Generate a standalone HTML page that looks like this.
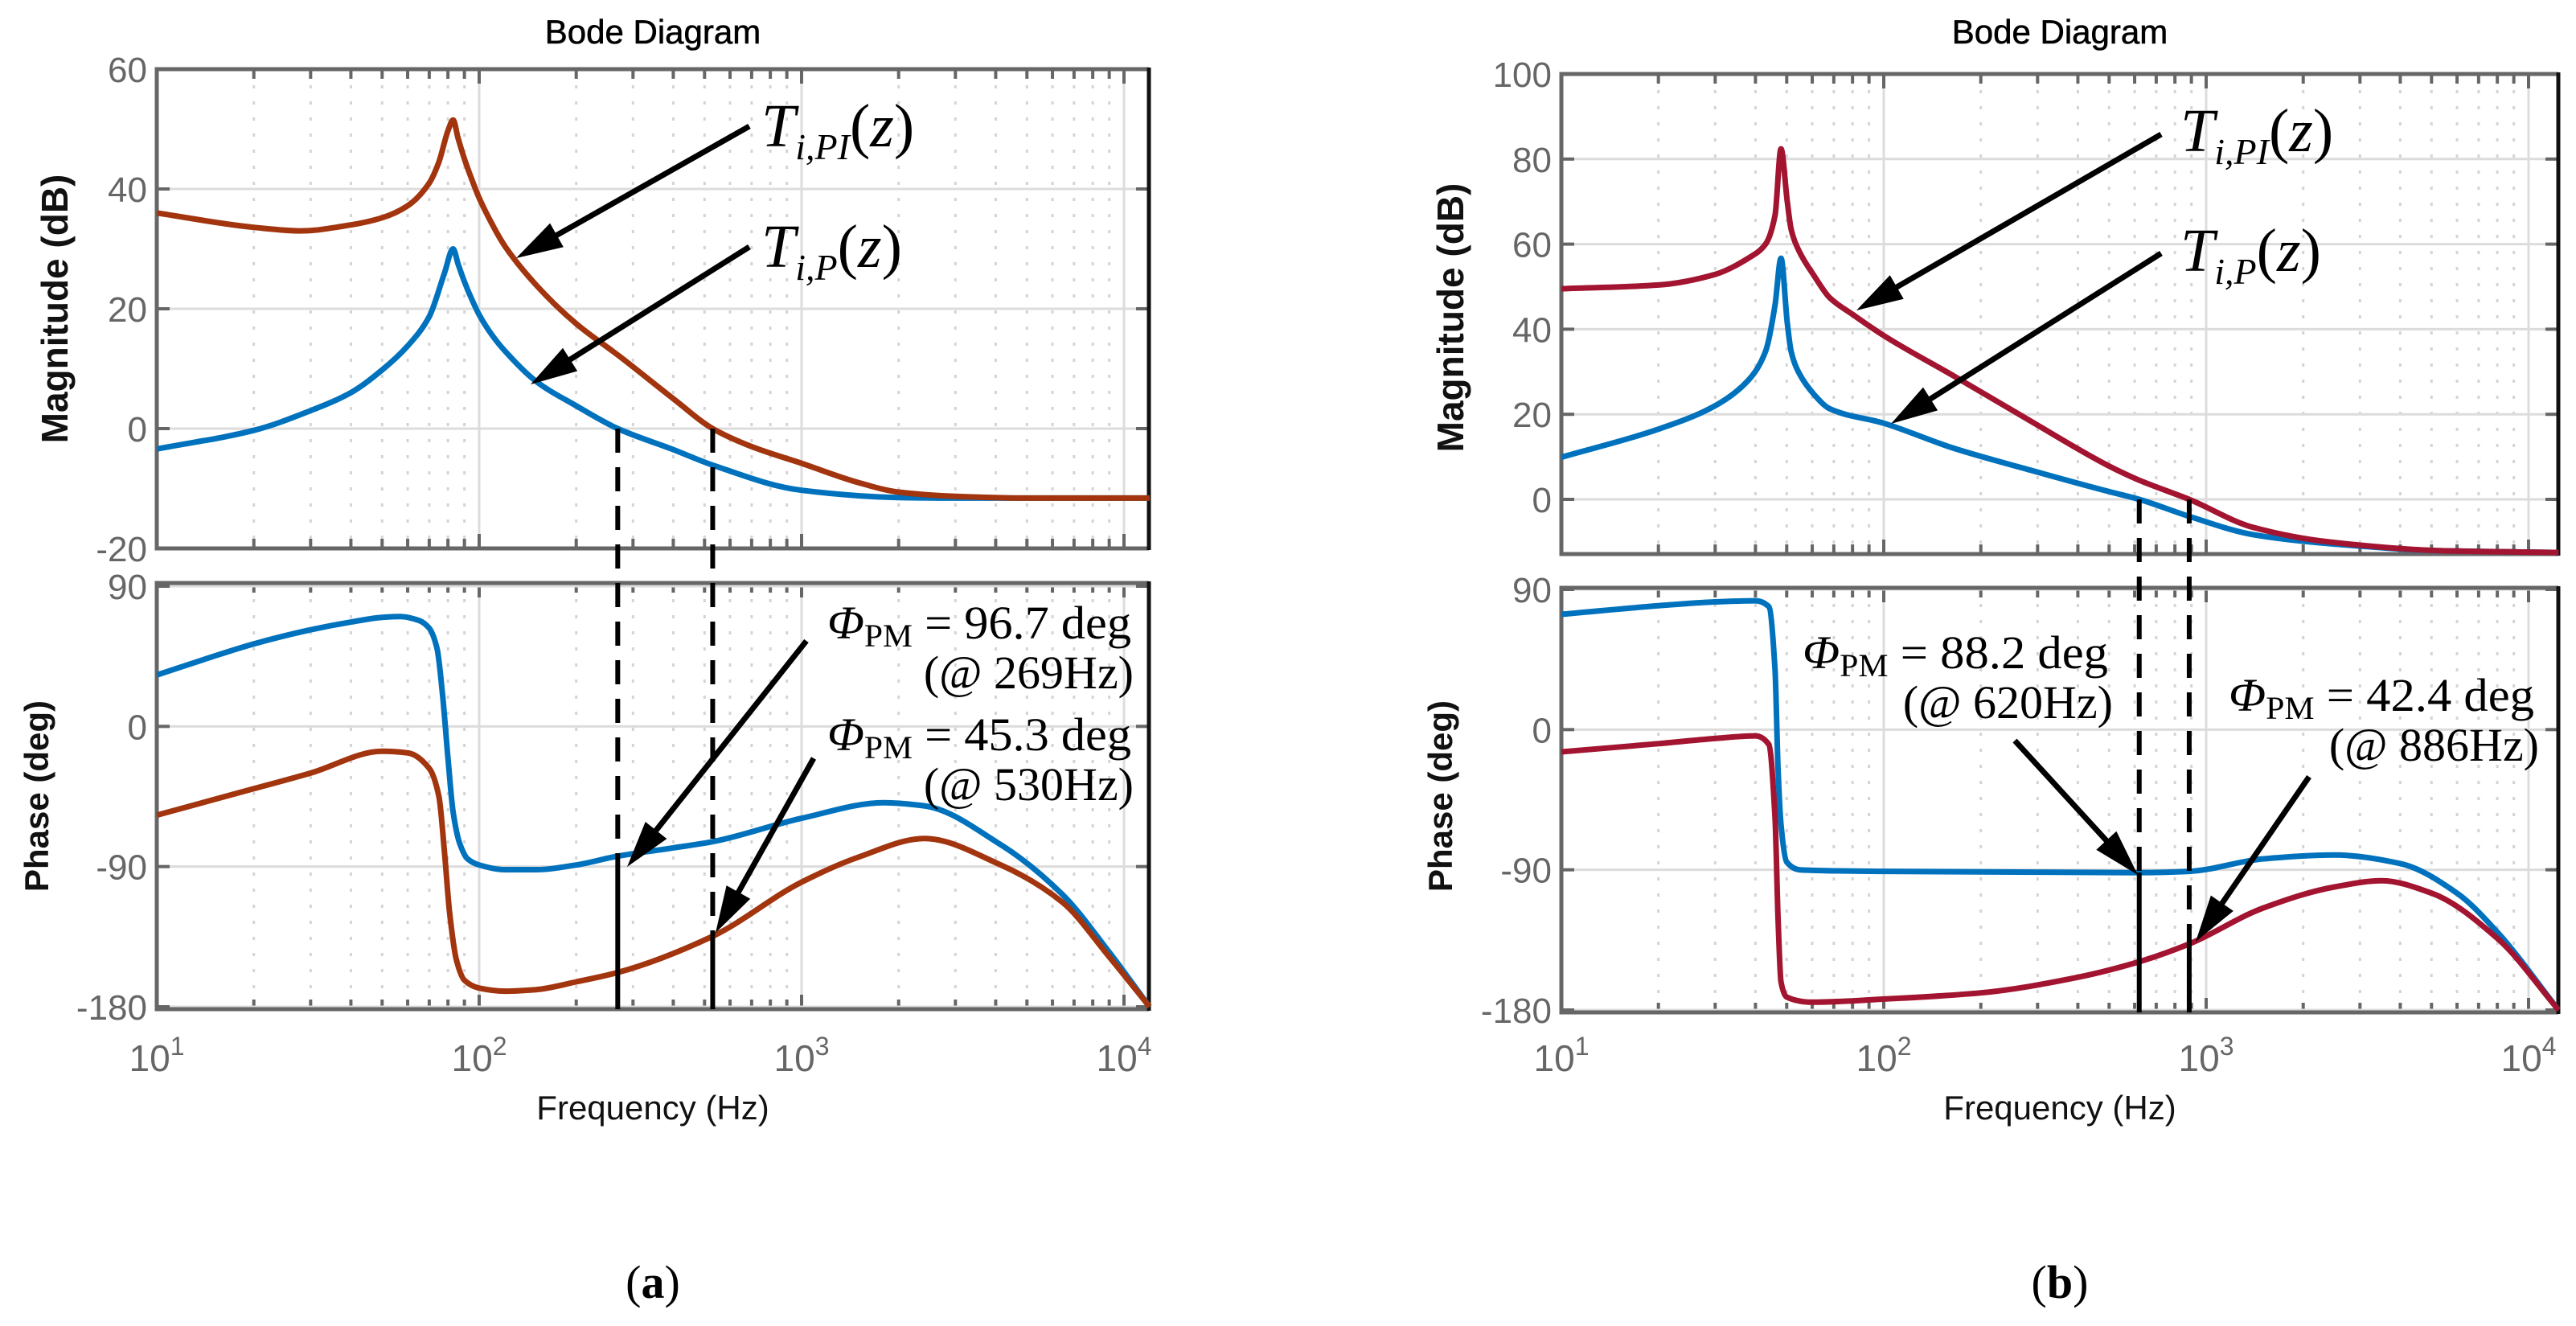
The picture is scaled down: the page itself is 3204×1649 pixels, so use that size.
<!DOCTYPE html>
<html><head><meta charset="utf-8"><title>Bode Diagrams</title>
<style>
html,body{margin:0;padding:0;background:#fff;}
svg{display:block;}
</style></head>
<body>
<svg id="fig" xmlns="http://www.w3.org/2000/svg" width="3204" height="1649" viewBox="0 0 3204 1649"></svg>
<script>
// ---------- data: chart (a) ----------
const freqA_magPI = [10,20,28,40,50,60,70,75,80,83,86,90,95,100,110,120,150,200,269,400,530,700,1000,1500,2000,3000,5000,12000];
const magA_PI     = [36,33.6,33,34,35.2,37.2,41,44.5,49.7,51.5,48.5,45,41.5,38.5,34,30.5,24,17.5,12.3,5,0,-3,-5.8,-9,-10.6,-11.3,-11.6,-11.6];
const freqA_magP  = [10,20,30,40,50,60,70,78,83,86,90,95,100,110,120,150,200,269,400,530,1000,2000,3000,5000,12000];
const magA_P      = [-3.4,-0.3,3,6,9.8,13.8,18.7,25.9,30,27.5,24.5,21.5,19,15.5,13,7.9,3.8,0,-3.5,-6.1,-10.3,-11.5,-11.6,-11.6,-11.6];
const freqA_phP   = [10,15,20,30,40,50,57,65,70,74,77,80,83,87,92,100,120,150,200,269,400,530,1000,1800,2400,4150,6450,9000,12000];
const phaseA_P    = [33,45,53,62,67,70,70.5,68,63,50,20,-20,-55,-75,-85,-89,-92,-92,-89,-83.3,-78,-74,-59,-49,-51,-76,-108,-145,-180];
const freqA_phPI  = [10,20,30,50,60,70,75,78,81,85,90,100,120,150,200,269,530,1000,1500,2400,4150,6450,9000,12000];
const phaseA_PI   = [-57,-40,-30,-16,-17,-27,-45,-80,-120,-150,-163,-168,-170,-169,-164,-158,-134.7,-100,-84,-72,-89,-113,-148,-180];
// ---------- data: chart (b) ----------
const freqB_magPI = [10,20,30,38,43,46,48,50.2,51.6,54.6,60.9,68,80,100,165,284,495,620,886,1400,2400,5500,12390];
const magB_PI     = [49.5,50.4,52.9,56.7,60,66.8,82.4,70,63.5,58.4,52.5,47.4,43.5,38.5,29,18.5,8,4.5,0,-6.6,-10,-12.1,-12.5];
const freqB_magP  = [10,20,30,38,43,46,48,50.2,51.6,54.6,60.9,68,100,165,284,495,620,886,1400,2400,5500,12390];
const magB_P      = [9.9,16.5,22,28,34.8,45.7,56.7,41.5,34.8,29.7,24.6,21.3,17.9,12,6.9,1.9,0,-4,-8.3,-10.4,-12.1,-12.5];
const freqB_phP   = [10,20,30,40,44,46,47,48,50,55,100,300,620,886,1500,2500,4000,6000,8000,12390];
const phaseB_P    = [74,79.5,82,82.7,79,38,-25,-61,-85,-90,-91,-91.5,-91.8,-91,-83,-80.5,-86,-105,-130,-180];
const freqB_phPI  = [10,20,30,40,44,46,47,48,50,60,100,200,400,620,886,1500,2500,3500,5000,8000,12390];
const phaseB_PI   = [-14.3,-9,-5.7,-4,-9.5,-57,-121,-162,-171.7,-175,-173,-169,-159,-149,-137.6,-114.6,-101,-97,-105,-134,-180];
// ticks
const magTicksA = [60,40,20,0,-20];
const magTicksB = [100,80,60,40,20,0];
const phaseTicks = [90,0,-90,-180];
const decadeExps = [1,2,3,4];
// crossover markers
const crossA = [269,530];
const crossB = [620,886];
const pmA = ["96.7","45.3"];
const pmB = ["88.2","42.4"];

const NS = "http://www.w3.org/2000/svg";
const svg = document.getElementById('fig');
function mk(tag, attrs, parent){
  const e = document.createElementNS(NS, tag);
  for (const k in attrs) e.setAttribute(k, attrs[k]);
  (parent||svg).appendChild(e);
  return e;
}
function monoPath(pts){
  const n = pts.length;
  if (n<2) return '';
  const dx=[],dy=[],m=[];
  for(let i=0;i<n-1;i++){dx.push(pts[i+1][0]-pts[i][0]);dy.push(pts[i+1][1]-pts[i][1]);m.push(dy[i]/dx[i]);}
  const t=[m[0]];
  for(let i=1;i<n-1;i++){ if(m[i-1]*m[i]<=0) t.push(0); else t.push(3*(dx[i-1]+dx[i])/((2*dx[i]+dx[i-1])/m[i-1]+(dx[i]+2*dx[i-1])/m[i])); }
  t.push(m[n-2]);
  let d='M'+pts[0][0].toFixed(1)+','+pts[0][1].toFixed(1);
  for(let i=0;i<n-1;i++){
    const h=dx[i];
    d+=' C'+(pts[i][0]+h/3).toFixed(1)+','+(pts[i][1]+t[i]*h/3).toFixed(1)+' '+(pts[i+1][0]-h/3).toFixed(1)+','+(pts[i+1][1]-t[i+1]*h/3).toFixed(1)+' '+pts[i+1][0].toFixed(1)+','+pts[i+1][1].toFixed(1);
  }
  return d;
}
function interp(fs, vs, f){
  const lf=Math.log10(f);
  for(let i=0;i<fs.length-1;i++){
    const a=Math.log10(fs[i]), b=Math.log10(fs[i+1]);
    if(lf>=a && lf<=b) return vs[i]+(vs[i+1]-vs[i])*(lf-a)/(b-a);
  }
  return vs[vs.length-1];
}
function arrow(x1,y1,x2,y2,name,g){
  const ang=Math.atan2(y2-y1,x2-x1), L=58, W=17;
  const bx=x2-L*Math.cos(ang), by=y2-L*Math.sin(ang);
  const a=mk('g',{},g);
  
  
  mk('line',{x1:x1,y1:y1,x2:bx+8*Math.cos(ang),y2:by+8*Math.sin(ang),stroke:'#000','stroke-width':7},a);
  mk('polygon',{points:`${x2},${y2} ${bx-W*Math.sin(ang)},${by+W*Math.cos(ang)} ${bx+W*Math.sin(ang)},${by-W*Math.cos(ang)}`,fill:'#000'},a);
}

function drawChart(cfg){
  const g = mk('g',{});
  
  
  const X0=cfg.x0, dec=401, XR=cfg.xr;
  const fx = f => X0 + (Math.log10(f)-1)*dec;
  const fmax = Math.pow(10, 1+(XR-X0)/dec);
  const my = v => cfg.magTop + (cfg.magMax - v)*cfg.magScale;
  const py = v => cfg.phTop90 + (90 - v)*cfg.phScale;
  const panels = [
    {top:cfg.magBoxTop,bot:cfg.magBoxBot,name:'magnitude-panel'},
    {top:cfg.phBoxTop,bot:cfg.phBoxBot,name:'phase-panel'}];
  panels.forEach(p=>{
    const pg = mk('g',{},g);
    
    
    for(let e=1;e<=4;e++){
      for(let k=1;k<=9;k++){
        const f=k*Math.pow(10,e); if(f>fmax) continue;
        const x=fx(f);
        if(k===1){ if(x>X0+2 && x<XR-2) mk('line',{x1:x,y1:p.top,x2:x,y2:p.bot,stroke:'#dcdcdc','stroke-width':3},pg); }
        else mk('line',{x1:x,y1:p.top,x2:x,y2:p.bot,stroke:'#d4d4d4','stroke-width':3,'stroke-dasharray':'4,16'},pg);
        const tl = k===1?18:12;
        mk('line',{x1:x,y1:p.bot,x2:x,y2:p.bot-tl,stroke:'#666','stroke-width':4},pg);
        mk('line',{x1:x,y1:p.top,x2:x,y2:p.top+tl,stroke:'#666','stroke-width':4},pg);
      }
    }
  });
  cfg.magTicks.forEach(v=>{
    const y=my(v);
    if(y>cfg.magBoxTop+2 && y<cfg.magBoxBot-2) mk('line',{x1:X0,y1:y,x2:XR,y2:y,stroke:'#dcdcdc','stroke-width':3},g);
    mk('line',{x1:X0,y1:y,x2:X0+16,y2:y,stroke:'#666','stroke-width':4},g);
    mk('line',{x1:XR,y1:y,x2:XR-16,y2:y,stroke:'#666','stroke-width':4},g);
    const t=mk('text',{x:X0-12,y:y+16,'text-anchor':'end','font-family':'Liberation Sans, sans-serif','font-size':44,fill:'#666'},g);
    t.textContent=v;
    
    
  });
  phaseTicks.forEach(v=>{
    const y=py(v);
    mk('line',{x1:X0,y1:y,x2:XR,y2:y,stroke:'#dcdcdc','stroke-width':3},g);
    mk('line',{x1:X0,y1:y,x2:X0+16,y2:y,stroke:'#666','stroke-width':4},g);
    mk('line',{x1:XR,y1:y,x2:XR-16,y2:y,stroke:'#666','stroke-width':4},g);
    const t=mk('text',{x:X0-12,y:y+16,'text-anchor':'end','font-family':'Liberation Sans, sans-serif','font-size':44,fill:'#666'},g);
    t.textContent=v;
    
    
  });
  decadeExps.forEach(e=>{
    const x=fx(Math.pow(10,e));
    const t=mk('text',{x:x,y:1332,'text-anchor':'middle','font-family':'Liberation Sans, sans-serif','font-size':46,fill:'#666'},g);
    
    
    t.innerHTML='10<tspan dy="-20" font-size="32">'+e+'</tspan>';
  });
  panels.forEach(p=>{
    const b=mk('path',{d:`M${XR},${p.top} H${X0} V${p.bot} H${XR}`,fill:'none',stroke:'#666','stroke-width':5},g);
    
    
    mk('line',{x1:XR,y1:p.top-2,x2:XR,y2:p.bot+2,stroke:'#111','stroke-width':5},g);
  });
  const clipId = cfg.name+'-clip';
  const defs=mk('defs',{},g);
  const cp=mk('clipPath',{id:clipId},defs);
  mk('rect',{x:X0,y:cfg.magBoxTop-10,width:XR-X0+4,height:cfg.magBoxBot-cfg.magBoxTop+14},cp);
  mk('rect',{x:X0,y:cfg.phBoxTop,width:XR-X0+4,height:cfg.phBoxBot-cfg.phBoxTop+4},cp);
  const curves=[
    [cfg.fMagP,cfg.magP,my,cfg.cP,'magnitude-curve-p'],
    [cfg.fMagPI,cfg.magPI,my,cfg.cPI,'magnitude-curve-pi'],
    [cfg.fPhP,cfg.phP,py,cfg.cP,'phase-curve-p'],
    [cfg.fPhPI,cfg.phPI,py,cfg.cPI,'phase-curve-pi']];
  curves.forEach(c=>{
    const pts=c[0].map((f,i)=>[fx(f),c[2](c[1][i])]);
    const p=mk('path',{d:monoPath(pts),fill:'none',stroke:c[3],'stroke-width':7,'stroke-linejoin':'round','clip-path':`url(#${clipId})`},g);
    
    
  });
  cfg.cross.forEach((f,i)=>{
    const x=fx(f);
    const ph = interp(cfg.crossPhF[i],cfg.crossPhV[i],f);
    const yc=py(ph);
    const l1=mk('line',{x1:x,y1:my(0),x2:x,y2:yc,stroke:'#000','stroke-width':6,'stroke-dasharray':'30,18'},g);
    
    
    const l2=mk('line',{x1:x,y1:yc,x2:x,y2:cfg.phBoxBot,stroke:'#000','stroke-width':6},g);
    
    
  });
  const ml=mk('text',{x:0,y:0,transform:`translate(${cfg.magLabX},${cfg.magLabY}) rotate(-90)`,'text-anchor':'middle','font-family':'Liberation Sans, sans-serif','font-size':46,'font-weight':'bold',fill:'#111'},g);
  ml.textContent='Magnitude (dB)';
  
  
  const pl=mk('text',{x:0,y:0,transform:`translate(${cfg.phLabX},990) rotate(-90)`,'text-anchor':'middle','font-family':'Liberation Sans, sans-serif','font-size':42,'font-weight':'bold',fill:'#111'},g);
  pl.textContent='Phase (deg)';
  
  
  const xl=mk('text',{x:(X0+XR)/2,y:1392,'text-anchor':'middle','font-family':'Liberation Sans, sans-serif','font-size':42,fill:'#111','xml:space':'preserve'},g);
  xl.textContent='Frequency  (Hz)';
  
  
  const tt=mk('text',{x:(X0+XR)/2,y:54,'text-anchor':'middle','font-family':'Liberation Sans, sans-serif','font-size':42,fill:'#000',stroke:'#000','stroke-width':0.6},g);
  tt.textContent='Bode Diagram';
  
  
  const sub=mk('text',{x:(X0+XR)/2,y:1614,'text-anchor':'middle','font-family':'Liberation Serif, serif','font-size':58,fill:'#000'},g);
  sub.innerHTML='(<tspan font-weight="bold">'+cfg.letter+'</tspan>)';
  
  
  cfg.tLabels.forEach(L=>{
    const t=mk('text',{x:L.x,y:L.y,'font-family':'Liberation Serif, serif','font-size':76,'font-style':'italic',fill:'#000'},g);
    t.innerHTML='T<tspan font-size="46" dy="16">'+L.sub+'</tspan><tspan dy="-16" font-style="normal">(</tspan>z<tspan font-style="normal">)</tspan>';
    
    
    arrow(L.ax1,L.ay1,L.ax2,L.ay2,L.name+'-arrow',g);
  });
  cfg.pm.forEach((P,i)=>{
    const t=mk('text',{x:P.x,y:P.y,'font-family':'Liberation Serif, serif','font-size':58,fill:'#000',textLength:P.w,lengthAdjust:'spacingAndGlyphs'},g);
    t.innerHTML='<tspan font-style="italic">Φ</tspan><tspan font-size="40" dy="10">PM</tspan><tspan dy="-10"> = '+cfg.pmVals[i]+' deg</tspan>';
    
    
    const t2=mk('text',{x:P.rx,y:P.y+62,'text-anchor':'end','font-family':'Liberation Serif, serif','font-size':58,fill:'#000'},g);
    t2.textContent='(@ '+cfg.cross[i]+'Hz)';
    
    
    arrow(P.ax1,P.ay1,P.ax2,P.ay2,'phase-margin-arrow',g);
  });
}

drawChart({
  name:'bode-chart-a', letter:'a', x0:195, xr:1429,
  magBoxTop:86, magBoxBot:682, magTop:86, magMax:60, magScale:596/80, magTicks:magTicksA,
  phBoxTop:725, phBoxBot:1255, phTop90:729, phScale:523/270,
  fMagP:freqA_magP, magP:magA_P, fMagPI:freqA_magPI, magPI:magA_PI,
  fPhP:freqA_phP, phP:phaseA_P, fPhPI:freqA_phPI, phPI:phaseA_PI,
  cP:'#0072BD', cPI:'#A2340E',
  cross:crossA, crossPhF:[freqA_phP,freqA_phPI], crossPhV:[phaseA_P,phaseA_PI],
  magLabX:84, magLabY:384, phLabX:60,
  tLabels:[
    {x:947,y:182,sub:'i,PI',name:'t-i-pi-label',ax1:932,ay1:157,ax2:642,ay2:321},
    {x:947,y:332,sub:'i,P',name:'t-i-p-label',ax1:932,ay1:307,ax2:660,ay2:478}],
  pmVals:pmA,
  pm:[
    {x:1029,y:794,w:378,rx:1410,ax1:1003,ay1:797,ax2:780,ay2:1078},
    {x:1029,y:933,w:378,rx:1410,ax1:1012,ay1:943,ax2:890,ay2:1160}]
});
drawChart({
  name:'bode-chart-b', letter:'b', x0:1942, xr:3182,
  magBoxTop:92, magBoxBot:689, magTop:92, magMax:100, magScale:529/100, magTicks:magTicksB,
  phBoxTop:731, phBoxBot:1259, phTop90:733, phScale:523/270,
  fMagP:freqB_magP, magP:magB_P, fMagPI:freqB_magPI, magPI:magB_PI,
  fPhP:freqB_phP, phP:phaseB_P, fPhPI:freqB_phPI, phPI:phaseB_PI,
  cP:'#0072BD', cPI:'#A2142F',
  cross:crossB, crossPhF:[freqB_phP,freqB_phPI], crossPhV:[phaseB_P,phaseB_PI],
  magLabX:1820, magLabY:395, phLabX:1806,
  tLabels:[
    {x:2712,y:188,sub:'i,PI',name:'t-i-pi-label',ax1:2688,ay1:167,ax2:2309,ay2:386},
    {x:2712,y:337,sub:'i,P',name:'t-i-p-label',ax1:2688,ay1:315,ax2:2352,ay2:527}],
  pmVals:pmB,
  pm:[
    {x:2242,y:831,w:380,rx:2628,ax1:2506,ay1:921,ax2:2659,ay2:1088},
    {x:2772,y:884,w:380,rx:3158,ax1:2872,ay1:966,ax2:2731,ay2:1171}]
});
</script>
</body></html>
